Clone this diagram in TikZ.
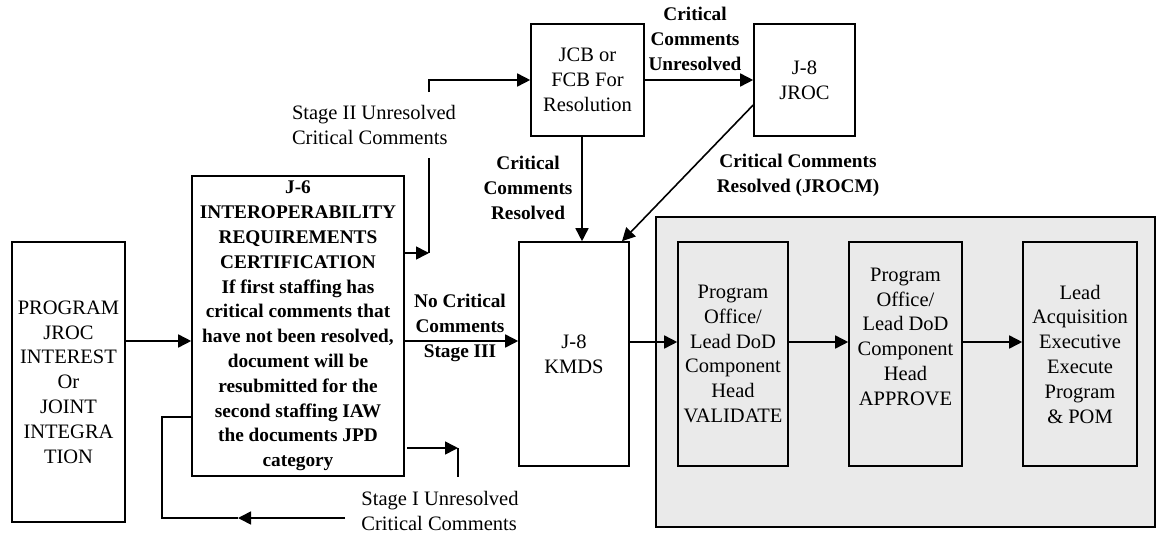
\documentclass[tikz,border=0pt]{standalone}
\usepackage{fontspec}
\setmainfont{Liberation Serif}
\usetikzlibrary{arrows.meta}
\definecolor{panel}{HTML}{EAEAEA}
\begin{document}
\begin{tikzpicture}[x=1pt,y=-1pt,
  reg/.style={font=\fontsize{20.5}{24.8}\selectfont},
  bld/.style={font=\fontsize{19.3}{24.8}\selectfont\bfseries},
  box/.style={draw, line width=1.6pt, inner sep=0pt, align=center},
  arr/.style={line width=1.6pt, -{Triangle[length=13pt,width=13pt]}},
  ln/.style={line width=1.6pt},
  lbl/.style={inner sep=0pt, align=center},
  lbll/.style={inner sep=0pt, align=left}
]
\useasboundingbox (0,0) rectangle (1156,535);
\fill[white] (0,0) rectangle (1156,535);

% gray panel
\node[box, fill=panel, minimum width=499pt, minimum height=310pt] (panel) at (905.5,372) {};

% boxes
\node[box, reg, minimum width=113pt, minimum height=280pt] (prog) at (68.5,382)
  {PROGRAM\\JROC\\INTEREST\\Or\\JOINT\\INTEGRA\\TION};
\node[box, bld, minimum width=212pt, minimum height=300pt] (j6) at (298,326)
  {J-6\\INTEROPERABILITY\\REQUIREMENTS\\CERTIFICATION\\If first staffing has\\critical comments that\\have not been resolved,\\document will be\\resubmitted for the\\second staffing IAW\\the documents JPD\\category};
\node[box, reg, minimum width=113pt, minimum height=112pt] (jcb) at (587.5,80)
  {JCB or\\FCB For\\Resolution};
\node[box, reg, minimum width=101pt, minimum height=112pt] (jroc) at (804.5,80)
  {J-8\\JROC};
\node[box, reg, fill=white, minimum width=110pt, minimum height=224pt] (kmds) at (574,354)
  {J-8\\KMDS};
\node[box, reg, fill=panel, minimum width=110pt, minimum height=224pt] (val) at (733,354)
  {Program\\Office/\\Lead DoD\\Component\\Head\\VALIDATE};
\node[box, reg, fill=panel, minimum width=113pt, minimum height=224pt] (appr) at (905.5,354)
  {Program\\Office/\\Lead DoD\\Component\\Head\\APPROVE\\[10pt]};
\node[box, reg, fill=panel, minimum width=114pt, minimum height=224pt] (lead) at (1080,354)
  {Lead\\Acquisition\\Executive\\Execute\\Program\\\&~POM};

% helper coordinates
\coordinate (yA) at (0,341);
\coordinate (yB) at (0,342);
\coordinate (yS2) at (0,253);
\coordinate (s2corner) at (429,253);
\coordinate (s2gapA) at (429,158);
\coordinate (s2gapB) at (429,92);
\coordinate (s2top) at (429,80);
\coordinate (xRes) at (582,0);
\coordinate (yDiag) at (0,105);
\coordinate (xDiag) at (622,0);
\coordinate (s1start) at (407,448);
\coordinate (s1corner) at (458,448);
\coordinate (s1end) at (458,477);
\coordinate (b1) at (345,518);
\coordinate (b2) at (238,518);
\coordinate (b3) at (162,518);
\coordinate (b4) at (162,417);
\coordinate (yS1) at (0,417);

% main flow
\draw[arr] (prog.east |- yA) -- (j6.west |- yA);
\draw[arr] (j6.east |- yA) -- (kmds.west |- yA);
\node[bld, lbl] (nocrit) at (460,328) {No Critical\\Comments\\Stage III};
\draw[arr] (kmds.east |- yB) -- (val.west |- yB);
\draw[arr] (val.east |- yB) -- (appr.west |- yB);
\draw[arr] (appr.east |- yB) -- (lead.west |- yB);

% stage II loop
\draw[arr] (j6.east |- yS2) -- (s2corner);
\draw[ln] (s2corner) -- (s2gapA);
\node[reg, lbll] (s2lbl) at (374,125) {Stage II Unresolved\\Critical Comments};
\draw[arr] (s2gapB) -- (s2top) -- (jcb.west);

% JCB / JROC
\draw[arr] (jcb.east) -- (jroc.west);
\node[bld, lbl] (unres) at (695,39) {Critical\\Comments\\Unresolved};
\draw[arr] (jcb.south -| xRes) -- (kmds.north -| xRes);
\node[bld, lbl] (res) at (528,188) {Critical\\Comments\\Resolved};
\draw[arr] (jroc.west |- yDiag) -- (kmds.north -| xDiag);
\node[bld, lbl] (jrocm) at (798,175) {Critical Comments\\Resolved (JROCM)};

% stage I loop
\draw[arr] (s1start) -- (s1corner);
\draw[ln] (s1corner) -- (s1end);
\node[reg, lbll] (s1lbl) at (440,511) {Stage I Unresolved\\Critical Comments};
\draw[arr] (b1) -- (b2);
\draw[ln] (b2) -- (b3) -- (b4) -- (j6.west |- yS1);
\end{tikzpicture}
\end{document}
